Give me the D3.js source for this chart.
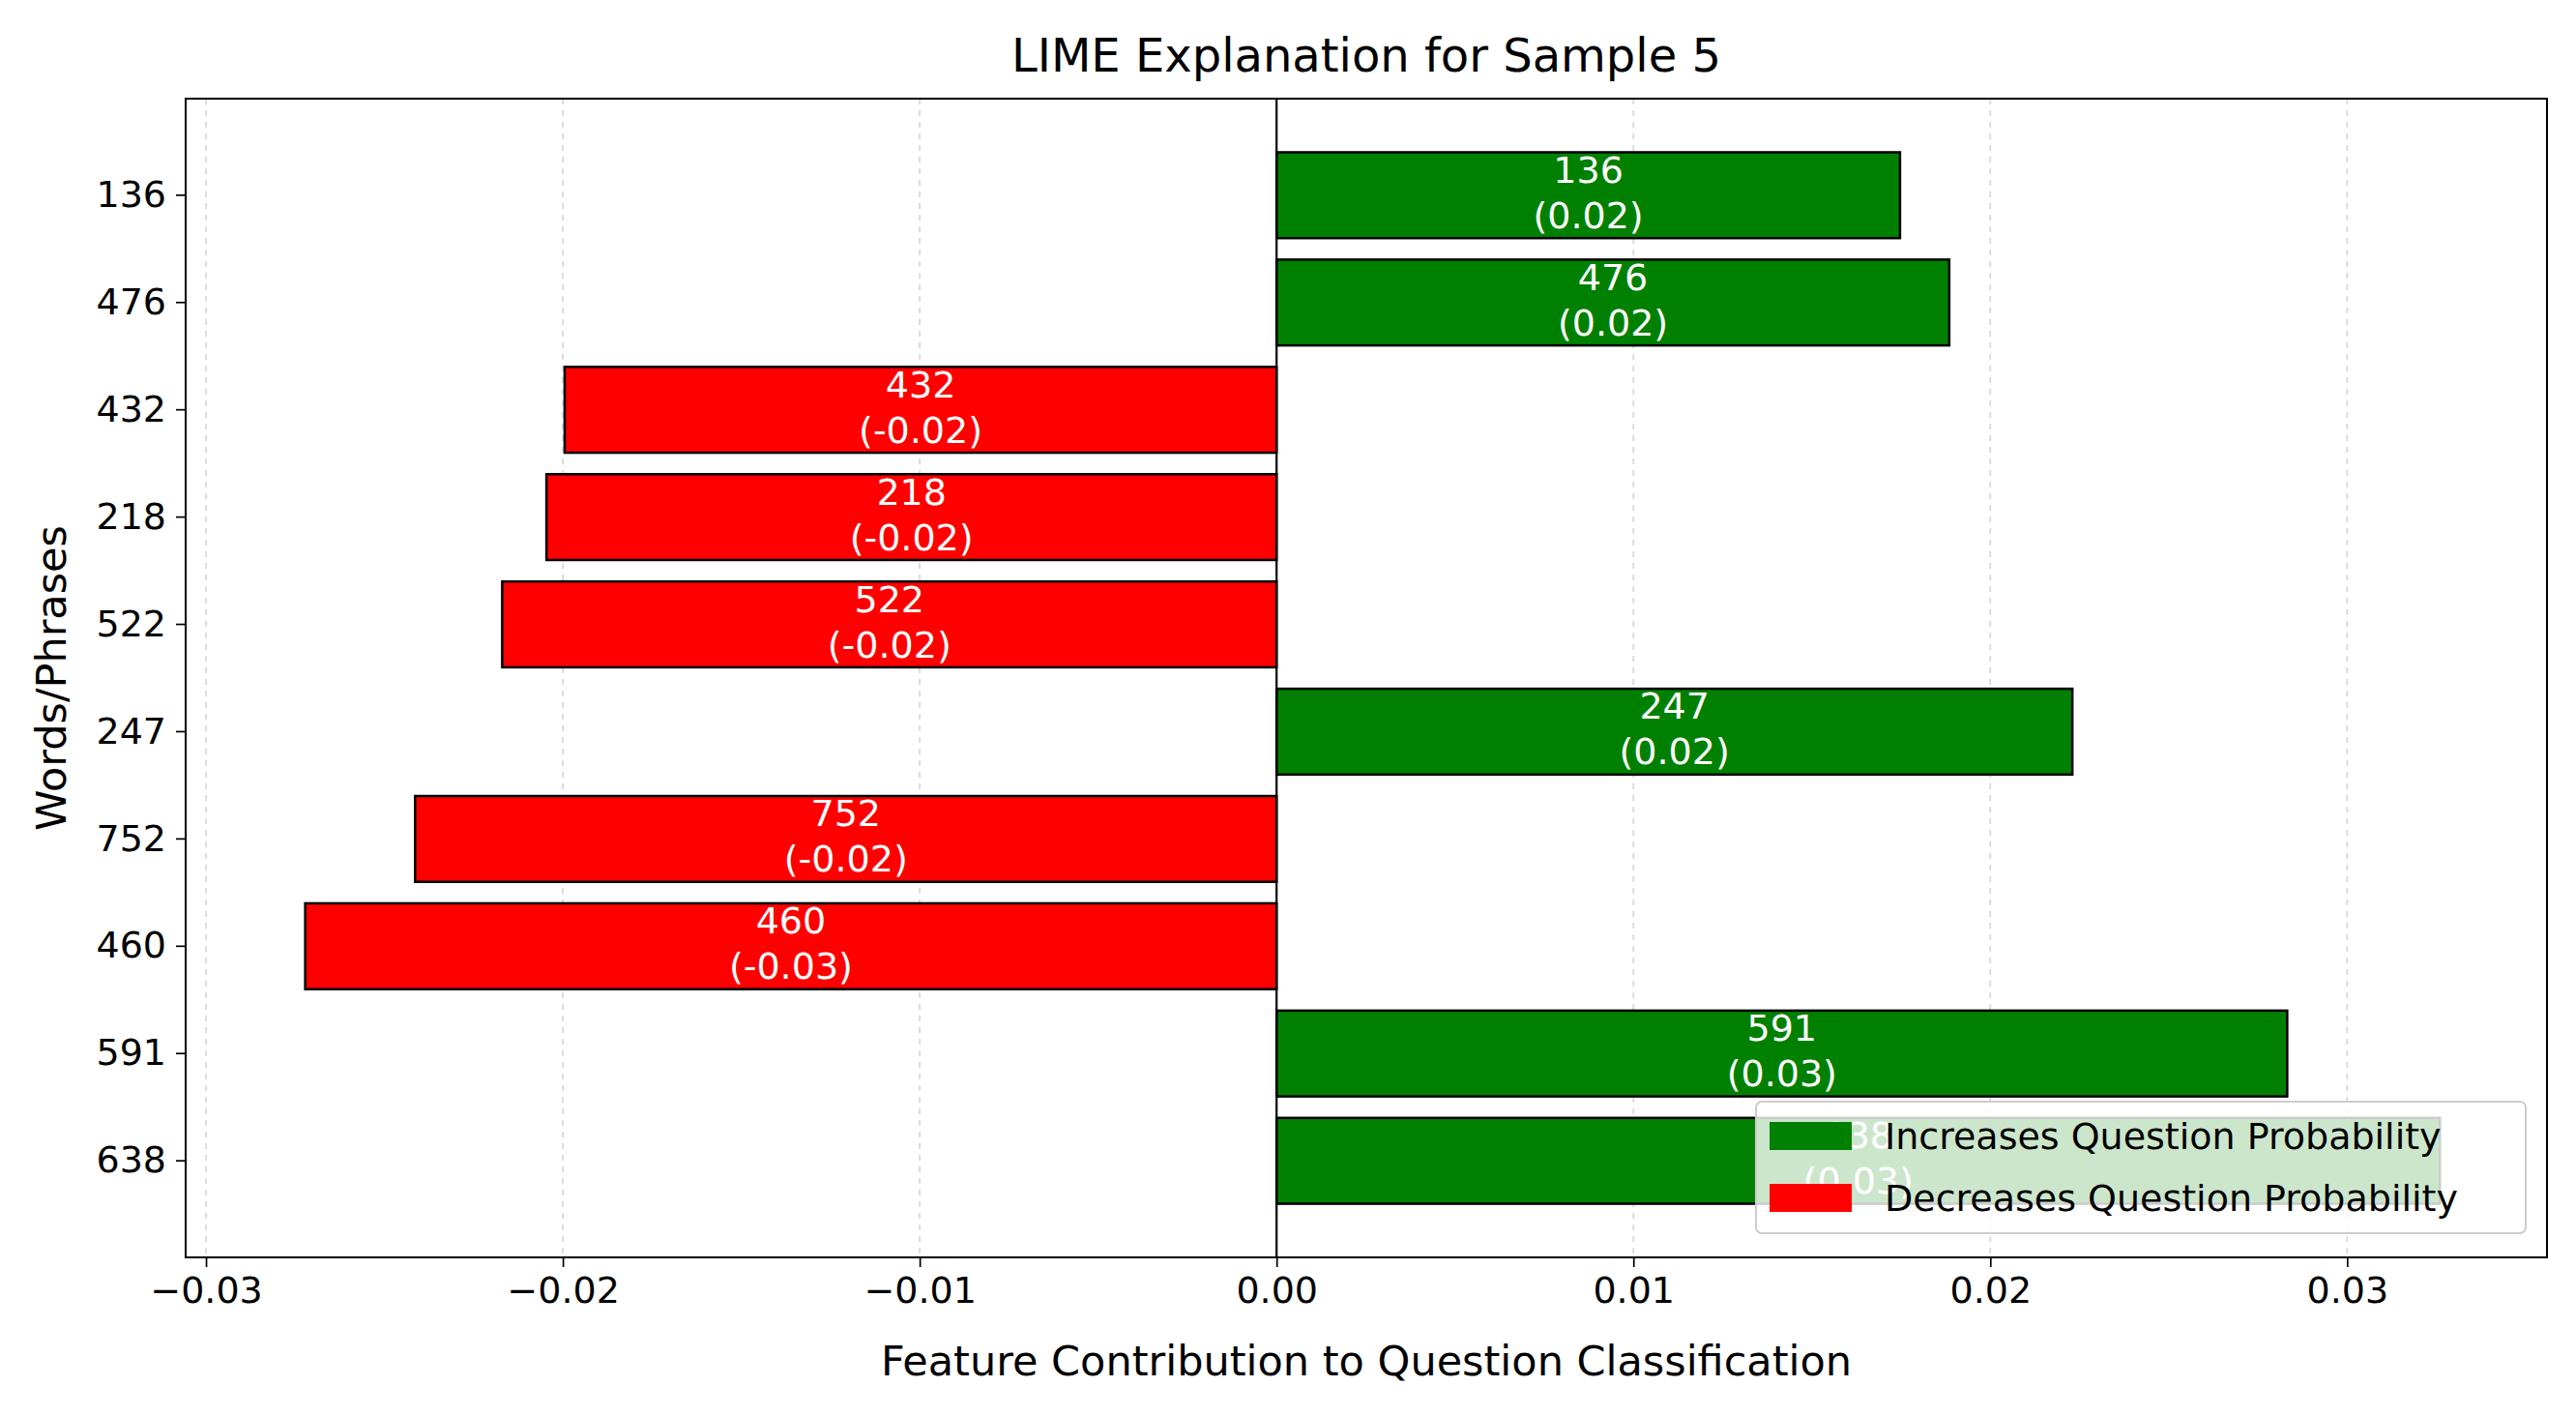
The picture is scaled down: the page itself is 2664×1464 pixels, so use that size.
<!DOCTYPE html><html><head><meta charset="utf-8"><script src="https://cdn.jsdelivr.net/npm/d3@7"></script>
<style>body{margin:0;background:#fff}text{font-family:"DejaVu Sans",sans-serif}</style></head><body><svg id="c" width="2664" height="1464"></svg>
<script>
const categories=["136","476","432","218","522","247","752","460","591","638"];
const values=[0.01747,0.01885,-0.01995,-0.02046,-0.0217,0.0223,-0.02414,-0.02722,0.02832,0.0326];
const xTicks=[-0.03,-0.02,-0.01,0,0.01,0.02,0.03];
const svg=d3.select("#c");
const L=192,R=2634,T=102,B=1300;
const x=d3.scaleLinear().domain([-0.03057,0.0356]).range([L,R]);
const y=d3.scaleBand().domain(categories).range([T,B]).paddingInner(0.2).paddingOuter(0.5);
svg.append("g").selectAll("line").data(xTicks).join("line").attr("x1",d=>x(d)).attr("x2",d=>x(d)).attr("y1",T).attr("y2",B).attr("stroke","#b0b0b0").attr("stroke-opacity",0.5).attr("stroke-width",1.7).attr("stroke-dasharray","6,6");
svg.append("g").selectAll("rect").data(values).join("rect").attr("x",d=>Math.min(x(0),x(d))).attr("width",d=>Math.abs(x(d)-x(0))).attr("y",(d,i)=>y(categories[i])).attr("height",y.bandwidth()).attr("fill",d=>d>=0?"green":"red").attr("stroke","#000").attr("stroke-width",2.5);
svg.append("line").attr("x1",x(0)).attr("x2",x(0)).attr("y1",T).attr("y2",B).attr("stroke","#000").attr("stroke-width",2.2);
const lab=svg.append("g").selectAll("text").data(values).join("text").attr("x",d=>(x(0)+x(d))/2).attr("y",(d,i)=>y(categories[i])+y.bandwidth()/2).attr("text-anchor","middle").attr("fill","#fff").attr("font-size",38);
lab.append("tspan").attr("x",d=>(x(0)+x(d))/2).attr("dy",-13).text((d,i)=>categories[i]);
lab.append("tspan").attr("x",d=>(x(0)+x(d))/2).attr("dy",47).text(d=>"("+d.toFixed(2)+")");
const xa=svg.append("g").attr("transform",`translate(0,${B})`).call(d3.axisBottom(x).tickValues(xTicks).tickFormat(d=>d3.format(".2f")(d).replace("-","−")).tickSize(10).tickPadding(10));
const ya=svg.append("g").attr("transform",`translate(${L},0)`).call(d3.axisLeft(y).tickSize(10).tickPadding(10));
[xa,ya].forEach(a=>{a.selectAll("text").attr("font-size",38).attr("fill","#000").attr("font-family","DejaVu Sans");a.selectAll("line").attr("stroke-width",1.7);a.select(".domain").remove();});
svg.append("rect").attr("x",L).attr("y",T).attr("width",R-L).attr("height",B-T).attr("fill","none").attr("stroke","#000").attr("stroke-width",2);
const lg=svg.append("g");
lg.append("rect").attr("x",1816).attr("y",1139).attr("width",796).attr("height",136).attr("rx",6).attr("fill","#fff").attr("fill-opacity",0.8).attr("stroke","#ccc").attr("stroke-width",2);
[["Increases Question Probability","green"],["Decreases Question Probability","red"]].forEach((e,i)=>{
 lg.append("rect").attr("x",1830).attr("y",1160+i*64).attr("width",85).attr("height",29).attr("fill",e[1]);
 lg.append("text").attr("x",1949).attr("y",1188+i*64).attr("font-size",38).text(e[0]);});
svg.append("text").attr("x",(L+R)/2).attr("y",74).attr("text-anchor","middle").attr("font-size",48).text("LIME Explanation for Sample 5");
svg.append("text").attr("x",(L+R)/2).attr("y",1422).attr("text-anchor","middle").attr("font-size",43).text("Feature Contribution to Question Classification");
svg.append("text").attr("transform",`translate(68,${(T+B)/2}) rotate(-90)`).attr("text-anchor","middle").attr("font-size",43).text("Words/Phrases");
</script></body></html>
